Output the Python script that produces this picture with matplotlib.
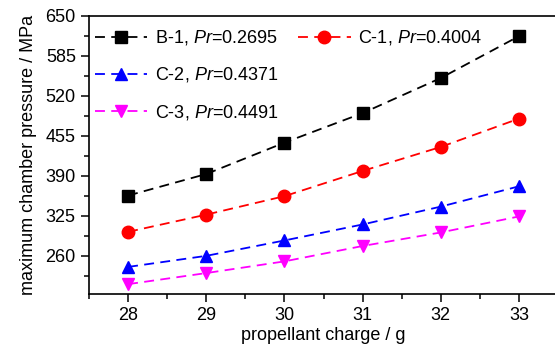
import matplotlib.pyplot as plt
from matplotlib.lines import Line2D

plt.rcParams['font.family'] = ['Liberation Sans', 'DejaVu Sans']
plt.rcParams['mathtext.fontset'] = 'custom'
plt.rcParams['mathtext.it'] = 'Liberation Sans:italic'
plt.rcParams['mathtext.rm'] = 'Liberation Sans'

charge = [28, 29, 30, 31, 32, 33]  # g
b1 = [358, 393, 444, 492, 549, 617]
c1 = [299, 327, 357, 398, 437, 483]
c2 = [242, 260, 285, 311, 340, 373]
c3 = [214, 232, 251, 276, 298, 324]
names = ['B-1', 'C-1', 'C-2', 'C-3']
pr = ['0.2695', '0.4004', '0.4371', '0.4491']
colors = ['black', '#ff0000', '#0000ff', '#ff00ff']
markers = ['s', 'o', '^', 'v']

fig = plt.figure(figsize=(5.55, 3.52), dpi=100)
ax = fig.add_axes([0.1604, 0.1648, 0.845, 0.790])

lines = []
for ys, n, p, c, m in zip([b1, c1, c2, c3], names, pr, colors, markers):
    ln, = ax.plot(charge, ys, ls=(0, (5.5, 3.5)), lw=1.3, color=c, marker=m,
                  markersize=9, label=n + r', $\mathit{Pr}$=' + p)
    lines.append(ln)

ax.set_xlim(27.5, 33.5)
ax.set_ylim(198, 650)
ax.set_xticks(charge)
ax.set_yticks([260, 325, 390, 455, 520, 585, 650])
ax.set_xticks([27.5 + 0.5 * i for i in range(13)], minor=True)
ax.set_yticks([227.5 + 32.5 * i for i in range(14)], minor=True)
ax.tick_params(which='major', direction='out', length=6, width=1.1, labelsize=13)
ax.tick_params(which='minor', direction='out', length=3.5, width=1.1)
for s in ax.spines.values():
    s.set_linewidth(1.2)
ax.spines['right'].set_visible(False)

ax.set_xlabel('propellant charge / g', fontsize=13, labelpad=2)
ax.set_ylabel('maximum chamber pressure / MPa', fontsize=13, labelpad=6)

leg_kw = dict(frameon=False, fontsize=13, handlelength=2.9, handletextpad=0.4,
              labelspacing=1.0, borderaxespad=0, borderpad=0, loc='upper left')
leg1 = ax.legend([lines[0], lines[2], lines[3]],
                 [lines[0].get_label(), lines[2].get_label(), lines[3].get_label()],
                 bbox_to_anchor=(0.013, 0.955), **leg_kw)
ax.add_artist(leg1)
ax.legend([lines[1]], [lines[1].get_label()], bbox_to_anchor=(0.446, 0.955), **leg_kw)

fig.savefig('out.png', dpi=100)
